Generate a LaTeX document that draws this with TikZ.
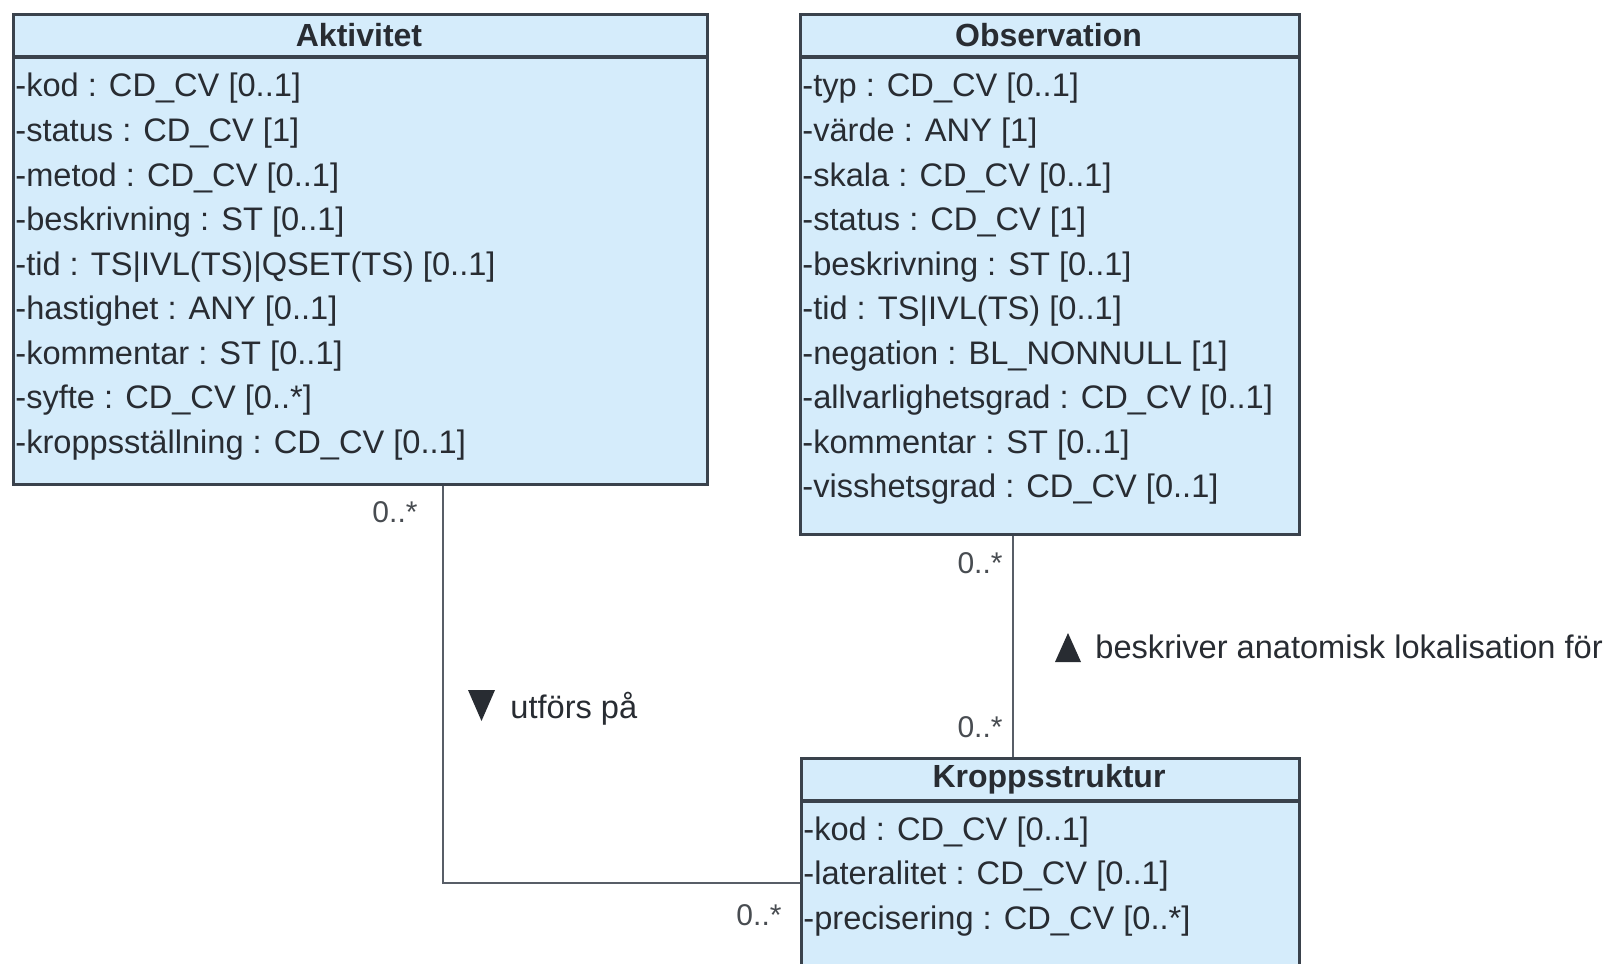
\documentclass[tikz,border=0pt]{standalone}
\usepackage{fontspec}
\setmainfont{Liberation Sans}
\usetikzlibrary{positioning}

\definecolor{umlfill}{RGB}{213,236,251}
\definecolor{umlline}{RGB}{58,66,76}
\definecolor{umltext}{RGB}{40,44,50}

\tikzset{
  classbox/.style={draw=umlline, fill=umlfill, line width=1.5pt, anchor=north west, inner sep=0pt},
  classname/.style={font=\bfseries\fontsize{16}{18}\selectfont, text=umltext},
  attr/.style={anchor=west, inner sep=0pt, font=\fontsize{16.3}{18}\selectfont, text=umltext, text height=12pt, text depth=3.5pt},
  mult/.style={font=\fontsize{15}{17}\selectfont, text=umltext!85},
  assoc/.style={draw=umlline!85, line width=1.3pt},
  divider/.style={draw=umlline, line width=1.6pt}
}

\begin{document}
\begin{tikzpicture}[x=0.5pt, y=-0.5pt]
\useasboundingbox (0,0) rectangle (1609,963);

% Aktivitet
\node[classbox, minimum width=347pt, minimum height=235pt] (akt) at (12,13) {};
\draw[divider] (akt.west |- 0,57) -- (akt.east |- 0,57);
\node[classname] (aktname) at (359,35) {Aktivitet};
\foreach \t [count=\i] in {-kod : CD\_CV [0..1], -status : CD\_CV [1], -metod : CD\_CV [0..1],
    -beskrivning : ST [0..1], -tid : TS|IVL(TS)|QSET(TS) [0..1], -hastighet : ANY [0..1],
    -kommentar : ST [0..1], -syfte : CD\_CV [0..*], -kroppsställning : CD\_CV [0..1]}
  \node[attr] (akt\i) at (15, 44+44.5*\i) {\t};

% Observation
\node[classbox, minimum width=249.5pt, minimum height=260pt] (obs) at (799,13) {};
\draw[divider] (obs.west |- 0,57) -- (obs.east |- 0,57);
\node[classname] (obsname) at (1048.5,35) {Observation};
\foreach \t [count=\i] in {-typ : CD\_CV [0..1], -värde : ANY [1], -skala : CD\_CV [0..1],
    -status : CD\_CV [1], -beskrivning : ST [0..1], -tid : TS|IVL(TS) [0..1],
    -negation : BL\_NONNULL [1], -allvarlighetsgrad : CD\_CV [0..1],
    -kommentar : ST [0..1], -visshetsgrad : CD\_CV [0..1]}
  \node[attr] (obs\i) at (802, 44+44.5*\i) {\t};

% Kroppsstruktur
\node[classbox, minimum width=249pt, minimum height=109pt] (kro) at (800,757) {};
\draw[divider] (kro.west |- 0,801) -- (kro.east |- 0,801);
\node[classname] (kroname) at (1049,779) {Kroppsstruktur};
\foreach \t [count=\i] in {-kod : CD\_CV [0..1], -lateralitet : CD\_CV [0..1], -precisering : CD\_CV [0..*]}
  \node[attr] (kro\i) at (803, 787+44.5*\i) {\t};

% associations
\draw[assoc] (akt.south -| 443,0) |- (kro.west |- 0,883);
\draw[assoc] (obs.south -| 1013,0) -- (kro.north -| 1013,0);

\node[mult] (m1) at (395,512) {0..*};
\node[mult] (m2) at (759,915) {0..*};
\node[mult] (m3) at (980,563) {0..*};
\node[mult] (m4) at (980,727) {0..*};

\node[attr] (utf) at (510,710) {utförs på};
\fill[umltext] (468,690) -- (495,690) -- (481.5,721) -- cycle;
\node[attr] (besk) at (1095,650) {beskriver anatomisk lokalisation för};
\fill[umltext] (1055,662) -- (1081,662) -- (1068,633) -- cycle;
\end{tikzpicture}
\end{document}
